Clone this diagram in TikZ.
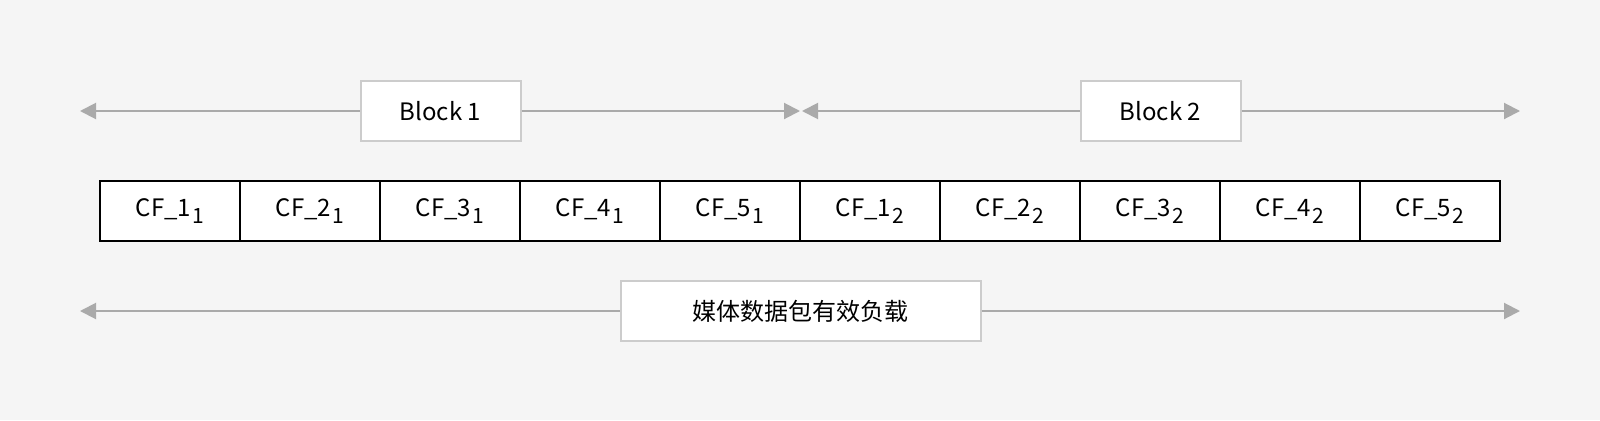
\documentclass[tikz,border=0pt]{standalone}
\usepackage{fontspec}
\setmainfont{Noto Sans CJK SC}
\usetikzlibrary{arrows.meta}
\definecolor{bgcol}{HTML}{F5F5F5}
\definecolor{boxline}{HTML}{CCCCCC}
\definecolor{arrowcol}{HTML}{AAAAAA}
\newcommand{\cfsub}[1]{\kern0.8pt\raisebox{-3.3pt}{\fontsize{10.5pt}{12pt}\selectfont #1}}
\tikzset{
  cell/.style={draw=black, line width=1pt, fill=white, minimum width=70pt, minimum height=30pt, inner sep=0pt, outer sep=0pt},
  label box/.style={draw=boxline, line width=1pt, fill=white, minimum height=30pt, inner sep=0pt},
  span/.style={draw=arrowcol, line width=1pt, -{Triangle[length=8pt,width=8pt]}}
}
\begin{document}
\begin{tikzpicture}[x=0.5pt, y=0.5pt, font=\fontsize{12pt}{14pt}\selectfont]
\useasboundingbox[fill=bgcol] (0,0) rectangle (1600,420);

% the ten fields
\foreach \i/\fld/\blk in {1/1/1,2/2/1,3/3/1,4/4/1,5/5/1,6/1/2,7/2/2,8/3/2,9/4/2,10/5/2}{
  \pgfmathsetmacro{\cx}{30+140*\i}
  \node[cell] (cf\i) at (\cx, 209) {CF\_\fld\cfsub{\blk}};
}

% blocks
\coordinate (l1) at (80, 309);
\coordinate (r1) at (800, 309);
\coordinate (l2) at (802, 309);
\coordinate (r2) at (1520, 309);
\node[label box, minimum width=80pt] (b1) at (440.5, 309) {Block 1};
\node[label box, minimum width=80pt] (b2) at (1160.5, 309) {Block 2};
\draw[span] (b1) -- (l1);
\draw[span] (b1) -- (r1);
\draw[span] (b2) -- (l2);
\draw[span] (b2) -- (r2);

% payload
\coordinate (lp) at (80, 109);
\coordinate (rp) at (1520, 109);
\node[label box, minimum width=180pt] (pl) at (800.5, 109) {媒体数据包有效负载};
\draw[span] (pl) -- (lp);
\draw[span] (pl) -- (rp);
\end{tikzpicture}
\end{document}
